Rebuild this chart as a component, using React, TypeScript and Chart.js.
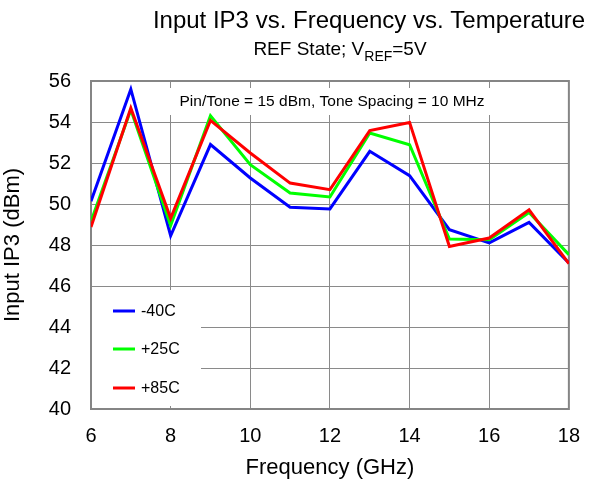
import React, { useEffect, useRef } from 'react';
import { Chart, registerables } from 'chart.js';

Chart.register(...registerables);

const frequencies = [6, 7, 8, 9, 10, 11, 12, 13, 14, 15, 16, 17, 18];
const minus40C = [50.13, 55.6, 48.45, 52.9, 51.27, 49.84, 49.76, 52.57, 51.38, 48.75, 48.1, 49.1, 47.12];
const plus25C = [49.15, 54.6, 48.95, 54.3, 51.92, 50.54, 50.34, 53.46, 52.89, 48.29, 48.26, 49.59, 47.53];
const plus85C = [48.88, 54.68, 49.3, 54.08, 52.49, 51.02, 50.7, 53.58, 53.98, 47.93, 48.34, 49.72, 47.09];
const seriesLabels = ['-40C', '+25C', '+85C'];
const seriesColors = ['#0000ff', '#00ff00', '#ff0000'];

const titleText = 'Input IP3 vs. Frequency vs. Temperature';
const subtitleParts = ['REF State; V', 'REF', '=5V'];
const noteText = 'Pin/Tone = 15 dBm, Tone Spacing = 10 MHz';
const xTitle = 'Frequency (GHz)';
const yTitle = 'Input IP3 (dBm)';

const FONT = '"Liberation Sans", Arial, Helvetica, sans-serif';

const decor = {
  id: 'decor',
  beforeDatasetsDraw(chart: any) {
    const { ctx, chartArea: a } = chart;
    ctx.save();
    ctx.fillStyle = '#ffffff';
    // annotation background
    ctx.fillRect(165, 88, 330, 27);
    // legend background
    ctx.fillRect(a.left + 1, 290, 109, 116);
    // plot border
    ctx.strokeStyle = '#858585';
    ctx.lineWidth = 2;
    ctx.strokeRect(a.left, a.top, a.right - a.left, a.bottom - a.top);
    ctx.restore();
  },
  afterDraw(chart: any) {
    const { ctx } = chart;
    ctx.save();
    ctx.fillStyle = '#000000';
    ctx.textBaseline = 'alphabetic';
    // title
    ctx.font = `24px ${FONT}`;
    ctx.textAlign = 'center';
    ctx.fillText(titleText, 369, 28);
    // subtitle with subscript
    ctx.textAlign = 'left';
    const mainFont = `19px ${FONT}`;
    const subFont = `14px ${FONT}`;
    ctx.font = mainFont;
    const w1 = ctx.measureText(subtitleParts[0]).width;
    const w3 = ctx.measureText(subtitleParts[2]).width;
    ctx.font = subFont;
    const w2 = ctx.measureText(subtitleParts[1]).width;
    let sx = 340 - (w1 + w2 + w3) / 2;
    ctx.font = mainFont;
    ctx.fillText(subtitleParts[0], sx, 55);
    sx += w1;
    ctx.font = subFont;
    ctx.fillText(subtitleParts[1], sx, 61);
    sx += w2;
    ctx.font = mainFont;
    ctx.fillText(subtitleParts[2], sx, 55);
    // annotation
    ctx.font = `15.5px ${FONT}`;
    ctx.textAlign = 'center';
    ctx.textBaseline = 'middle';
    ctx.fillText(noteText, 332, 102);
    // legend
    const ys = [311, 349, 388];
    chart.data.datasets.forEach((ds: any, i: number) => {
      ctx.strokeStyle = ds.borderColor;
      ctx.lineWidth = 3;
      ctx.beginPath();
      ctx.moveTo(113, ys[i]);
      ctx.lineTo(135, ys[i]);
      ctx.stroke();
      ctx.fillStyle = '#000000';
      ctx.font = `16px ${FONT}`;
      ctx.textAlign = 'left';
      ctx.fillText(ds.label, 141, ys[i] + 1);
    });
    ctx.restore();
  },
};

export default function App() {
  const ref = useRef<HTMLCanvasElement>(null);
  useEffect(() => {
    if (!ref.current) return;
    const series = [minus40C, plus25C, plus85C];
    const chart = new Chart(ref.current, {
      type: 'line',
      data: {
        datasets: series.map((vals, i) => ({
          label: seriesLabels[i],
          data: frequencies.map((f, j) => ({ x: f, y: vals[j] })),
          borderColor: seriesColors[i],
          backgroundColor: seriesColors[i],
          borderWidth: 3,
          pointRadius: 0,
          tension: 0,
          fill: false,
          order: 2 - i,
        })),
      },
      options: {
        responsive: false,
        animation: false,
        devicePixelRatio: 1,
        layout: { padding: { top: 81, right: 26, bottom: 0, left: 0 } },
        plugins: {
          legend: { display: false },
          tooltip: { enabled: false },
          title: { display: false },
        },
        scales: {
          x: {
            type: 'linear',
            min: 6,
            max: 18,
            ticks: { stepSize: 2, color: '#000', font: { family: FONT, size: 20 }, padding: 15, maxRotation: 0 },
            grid: { color: '#8a8a8a', lineWidth: 1, drawTicks: false },
            border: { display: false },
            title: { display: true, text: xTitle, color: '#000', font: { family: FONT, size: 22 }, padding: { top: 0, bottom: 1 } },
            afterFit: (s: any) => { s.height = 73; },
          },
          y: {
            type: 'linear',
            min: 40,
            max: 56,
            ticks: { stepSize: 2, color: '#000', font: { family: FONT, size: 20 }, padding: 20 },
            grid: { color: '#8a8a8a', lineWidth: 1, drawTicks: false },
            border: { display: false },
            title: { display: true, text: yTitle, color: '#000', font: { family: FONT, size: 22 }, padding: { top: 0, bottom: 0 } },
            afterFit: (s: any) => { s.width = 91; },
          },
        },
      },
      plugins: [decor],
    });
    return () => chart.destroy();
  }, []);
  return (
    <div style={{ position: 'absolute', left: 0, top: 0, width: 595, height: 482, background: '#fff' }}>
      <canvas ref={ref} width={595} height={482} style={{ display: 'block', width: 595, height: 482 }} />
    </div>
  );
}
